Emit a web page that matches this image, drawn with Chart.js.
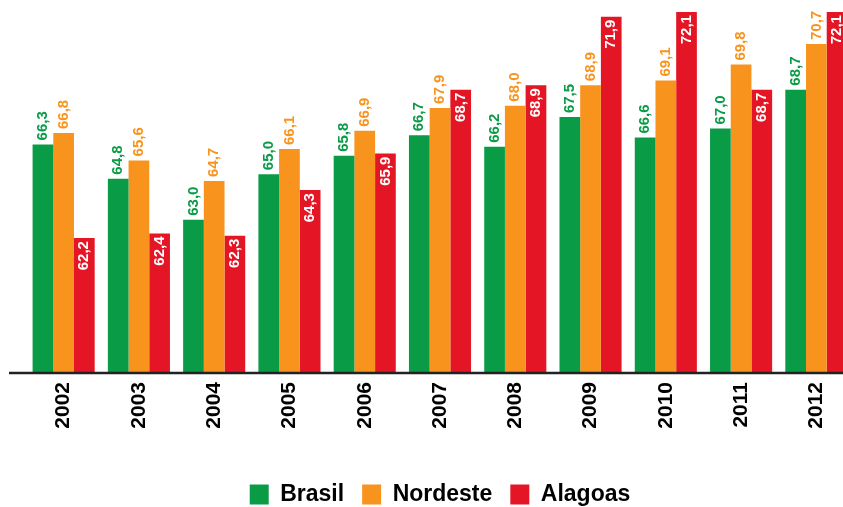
<!DOCTYPE html>
<html><head><meta charset="utf-8">
<script src="https://cdn.jsdelivr.net/npm/chart.js@4.4.0/dist/chart.umd.min.js"></script>
<style>
html,body{margin:0;padding:0;overflow:hidden;background:#fff;width:843px;height:507px}
#wrap{width:860px;height:516px}
</style></head>
<body><div id="wrap"><canvas id="c" width="860" height="516"></canvas></div>
<script>
const categories = ['2002','2003','2004','2005','2006','2007','2008','2009','2010','2011','2012'];
const brasil   = [66.3, 64.8, 63.0, 65.0, 65.8, 66.7, 66.2, 67.5, 66.6, 67.0, 68.7];
const nordeste = [66.8, 65.6, 64.7, 66.1, 66.9, 67.9, 68.0, 68.9, 69.1, 69.8, 70.7];
const alagoas  = [62.2, 62.4, 62.3, 64.3, 65.9, 68.7, 68.9, 71.9, 72.1, 68.7, 72.1];
const seriesNames = ['Brasil', 'Nordeste', 'Alagoas'];

const GREEN = 'rgb(10,155,70)', ORANGE = 'rgb(248,148,30)', RED = 'rgb(228,22,38)';
const FONT = '"Liberation Sans", Arial, sans-serif';

const valueLabels = {
  id: 'valueLabels',
  afterDatasetsDraw(chart) {
    const ctx = chart.ctx;
    chart.data.datasets.forEach((ds, i) => {
      const meta = chart.getDatasetMeta(i);
      meta.data.forEach((bar, j) => {
        const txt = ds.data[j].toFixed(1).replace('.', ',');
        ctx.save();
        ctx.translate(bar.x, bar.y);
        ctx.rotate(-Math.PI / 2);
        ctx.font = 'bold 15px ' + FONT;
        ctx.textBaseline = 'middle';
        if (i === 2) {
          ctx.textAlign = 'right';
          ctx.fillStyle = '#ffffff';
          ctx.fillText(txt, -3, 0);
        } else {
          ctx.textAlign = 'left';
          ctx.fillStyle = ds.backgroundColor;
          ctx.fillText(txt, 4, 0);
        }
        ctx.restore();
      });
    });
  }
};

const baseLine = {
  id: 'baseLine',
  afterDatasetsDraw(chart) {
    const ctx = chart.ctx, y = chart.chartArea.bottom;
    ctx.save();
    ctx.strokeStyle = '#222';
    ctx.lineWidth = 2.5;
    ctx.beginPath();
    ctx.moveTo(9, y + 1);
    ctx.lineTo(chart.width, y + 1);
    ctx.stroke();
    ctx.restore();
  }
};

new Chart(document.getElementById('c'), {
  type: 'bar',
  data: {
    labels: categories,
    datasets: [
      { label: seriesNames[0], data: brasil, backgroundColor: GREEN },
      { label: seriesNames[1], data: nordeste, backgroundColor: ORANGE },
      { label: seriesNames[2], data: alagoas, backgroundColor: RED }
    ]
  },
  options: {
    responsive: false,
    animation: false,
    layout: { padding: { left: 26, right: 6, top: 0, bottom: 0 } },
    datasets: { bar: { categoryPercentage: 0.825, barPercentage: 1.0 } },
    scales: {
      x: {
        grid: { display: false, drawTicks: false },
        border: { display: false },
        ticks: {
          minRotation: 90, maxRotation: 90, padding: 10, autoSkip: false,
          color: '#000', font: { family: FONT, size: 21, weight: 'bold' }
        },
        afterFit(scale) { scale.height = 93; }
      },
      y: {
        display: false,
        min: 56.33, max: 72.63
      }
    },
    plugins: {
      legend: {
        position: 'bottom',
        labels: {
          boxWidth: 19, boxHeight: 20, padding: 18, color: '#000',
          font: { family: FONT, size: 23, weight: 'bold' }
        }
      },
      tooltip: { enabled: false }
    }
  },
  plugins: [valueLabels, baseLine]
});
</script>
</body></html>
